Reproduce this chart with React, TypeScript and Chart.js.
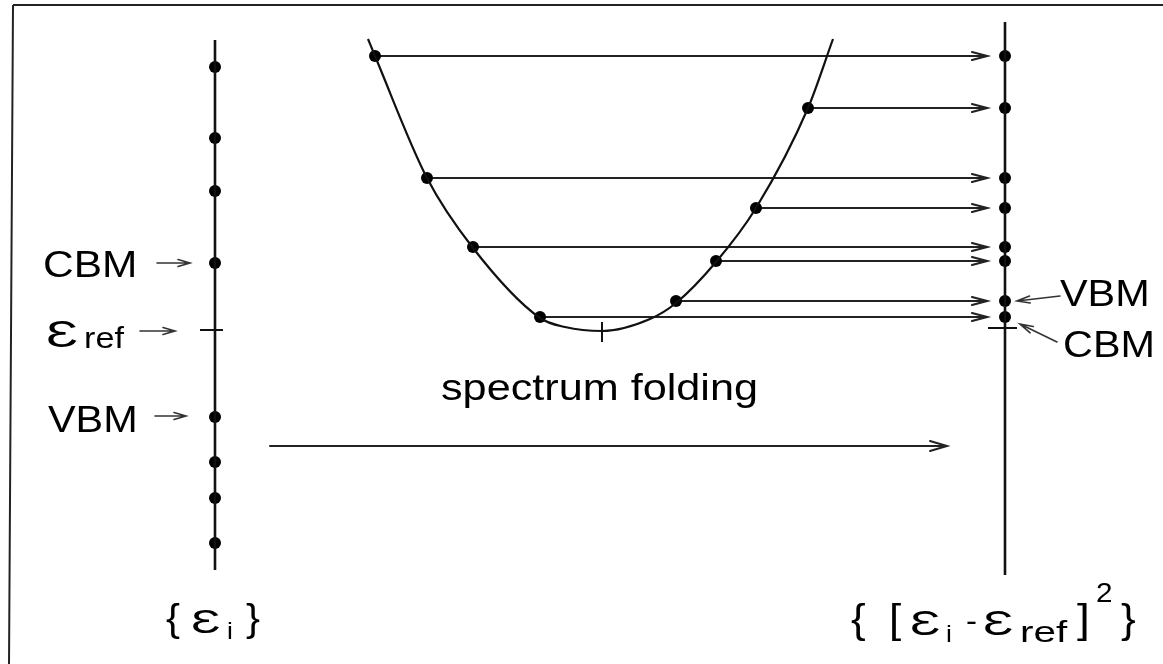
import React, { useEffect, useRef } from 'react';
import { Chart, registerables } from 'chart.js';

Chart.register(...registerables);

// ---- Data (energy-like units, 0 = ε_ref) ----
const leftLevels = [263, 192, 139, 67, -87, -132, -168, -213];
const foldedLevels = [274, 222, 152, 122, 83, 69, 29, 13];
const curveHitX = [375, 808, 427, 756, 473, 716, 676, 540];
const curveX = [368, 375, 427, 473, 540, 565, 602, 650, 676, 716, 756, 808, 833];
const curveY = [291, 274, 152, 82, 12, 3, -1, 11, 27, 68, 122, 222, 291];
const eRef = 0;
const foldedRef = 2;
const curveMinX = 602;

// ---- Layout ----
const W = 1163;
const H = 664;
const LEFT_AXIS_X = 215;
const RIGHT_AXIS_X = 1005;
const ARROW_TIP_X = 987;
const FONT = '"Liberation Sans", Arial, Helvetica, sans-serif';
const EPS = '\u0190';

function drawArrow(ctx: CanvasRenderingContext2D, x1: number, y1: number, x2: number, y2: number, len: number, hw: number, lw: number, color: string) {
  ctx.save();
  ctx.strokeStyle = color;
  ctx.lineWidth = lw;
  ctx.lineCap = 'round';
  ctx.beginPath();
  ctx.moveTo(x1, y1);
  ctx.lineTo(x2, y2);
  const a = Math.atan2(y2 - y1, x2 - x1);
  const ca = Math.cos(a), sa = Math.sin(a);
  const bx = x2 - ca * len, by = y2 - sa * len;
  ctx.moveTo(bx - sa * hw, by + ca * hw);
  ctx.lineTo(x2, y2);
  ctx.lineTo(bx + sa * hw, by - ca * hw);
  ctx.stroke();
  ctx.restore();
}

function txt(ctx: CanvasRenderingContext2D, s: string, x: number, y: number, size: number, sx = 1.15) {
  ctx.save();
  ctx.translate(x, y);
  ctx.scale(sx, 1);
  ctx.font = `${size}px ${FONT}`;
  ctx.fillStyle = '#000';
  ctx.textAlign = 'left';
  ctx.textBaseline = 'alphabetic';
  ctx.fillText(s, 0, 0);
  ctx.restore();
}

const diagramPlugin = {
  id: 'diagram',
  beforeDatasetsDraw(chart: any) {
    const ctx: CanvasRenderingContext2D = chart.ctx;
    const X = (v: number) => chart.scales.x.getPixelForValue(v);
    const Y = (v: number) => chart.scales.y.getPixelForValue(v);
    ctx.save();
    // frame
    ctx.strokeStyle = '#222';
    ctx.lineWidth = 2;
    ctx.beginPath();
    ctx.moveTo(13, 5);
    ctx.lineTo(W, 5);
    ctx.moveTo(13, 5);
    ctx.lineTo(9, H);
    ctx.stroke();

    // ticks
    ctx.strokeStyle = '#111';
    ctx.lineWidth = 2;
    ctx.beginPath();
    ctx.moveTo(X(LEFT_AXIS_X - 15), Y(eRef));
    ctx.lineTo(X(LEFT_AXIS_X + 8), Y(eRef));
    ctx.moveTo(X(RIGHT_AXIS_X - 17), Y(foldedRef));
    ctx.lineTo(X(RIGHT_AXIS_X + 12), Y(foldedRef));
    ctx.moveTo(X(curveMinX), Y(8));
    ctx.lineTo(X(curveMinX), Y(-12));
    ctx.stroke();

    // folding arrows
    foldedLevels.forEach((lv, i) => {
      drawArrow(ctx, X(curveHitX[i]), Y(lv), X(ARROW_TIP_X), Y(lv), 15, 4, 2.2, '#222');
    });

    // spectrum folding arrow
    drawArrow(ctx, X(270), Y(-116), X(947), Y(-116), 17, 5, 2, '#222');

    // left label arrows
    drawArrow(ctx, X(157), Y(67), X(190), Y(67), 12, 3.5, 1.6, '#333');
    drawArrow(ctx, X(140), Y(-1), X(175), Y(-1), 12, 3.5, 1.6, '#333');
    drawArrow(ctx, X(155), Y(-86), X(186), Y(-86), 12, 3.5, 1.6, '#333');

    // right label arrows
    drawArrow(ctx, X(1060), Y(34), X(1017), Y(29), 13, 3.5, 1.6, '#333');
    drawArrow(ctx, X(1057), Y(-12), X(1020), Y(6), 13, 3.5, 1.6, '#333');
    ctx.restore();
  },
  afterDatasetsDraw(chart: any) {
    const ctx: CanvasRenderingContext2D = chart.ctx;
    // left labels
    txt(ctx, 'CBM', 43, 277, 36, 1.18);
    txt(ctx, 'VBM', 48, 432, 36, 1.15);
    txt(ctx, EPS, 46, 347, 37, 1.45);
    txt(ctx, 'ref', 84, 348, 29, 1.18);
    // right labels
    txt(ctx, 'VBM', 1060, 306, 36, 1.15);
    txt(ctx, 'CBM', 1063, 357, 36, 1.15);
    // middle
    txt(ctx, 'spectrum folding', 441, 400, 36, 1.2);
    // bottom left
    txt(ctx, '{', 166, 631, 38, 1.1);
    txt(ctx, EPS, 191, 633, 34, 1.45);
    txt(ctx, 'i', 227, 639, 24, 1.1);
    txt(ctx, '}', 246, 631, 38, 1.1);
    // bottom right
    txt(ctx, '{', 851, 633, 40, 1.1);
    txt(ctx, '[', 889, 633, 40, 1.1);
    txt(ctx, EPS, 910, 635, 35, 1.45);
    txt(ctx, 'i', 946, 642, 24, 1.1);
    txt(ctx, '-', 966, 631, 30, 1.1);
    txt(ctx, EPS, 983, 635, 35, 1.45);
    txt(ctx, 'ref', 1020, 642, 30, 1.35);
    txt(ctx, ']', 1077, 633, 40, 1.15);
    txt(ctx, '2', 1096, 602, 27, 1.1);
    txt(ctx, '}', 1121, 633, 40, 1.1);
  },
};

export default function App() {
  const ref = useRef<HTMLCanvasElement | null>(null);
  useEffect(() => {
    document.body.style.margin = '0';
    if (!ref.current) return;
    const chart = new Chart(ref.current, {
      type: 'line',
      data: {
        datasets: [
          {
            label: 'left axis',
            data: [{ x: LEFT_AXIS_X, y: 290 }, { x: LEFT_AXIS_X, y: -240 }],
            borderColor: '#111',
            borderWidth: 2.6,
            pointRadius: 0,
          },
          {
            label: 'right axis',
            data: [{ x: RIGHT_AXIS_X, y: 308 }, { x: RIGHT_AXIS_X, y: -245 }],
            borderColor: '#111',
            borderWidth: 2.6,
            pointRadius: 0,
          },
          {
            label: 'parabola',
            data: curveX.map((x, i) => ({ x, y: curveY[i] })),
            borderColor: '#111',
            borderWidth: 2.2,
            pointRadius: 0,
            cubicInterpolationMode: 'monotone',
          },
          {
            label: 'levels',
            data: leftLevels.map((y) => ({ x: LEFT_AXIS_X, y })),
            showLine: false,
            pointRadius: 6,
            pointBackgroundColor: '#000',
            pointBorderWidth: 0,
          },
          {
            label: 'folded levels',
            data: foldedLevels.map((y) => ({ x: RIGHT_AXIS_X, y })),
            showLine: false,
            pointRadius: 6,
            pointBackgroundColor: '#000',
            pointBorderWidth: 0,
          },
          {
            label: 'curve points',
            data: foldedLevels.map((y, i) => ({ x: curveHitX[i], y })),
            showLine: false,
            pointRadius: 6,
            pointBackgroundColor: '#000',
            pointBorderWidth: 0,
          },
        ],
      },
      options: {
        animation: false,
        responsive: false,
        devicePixelRatio: 1,
        layout: { padding: 0, autoPadding: false },
        plugins: { legend: { display: false }, tooltip: { enabled: false } },
        events: [],
        scales: {
          x: { type: 'linear', min: 0, max: W, display: false },
          y: { type: 'linear', min: 330 - H, max: 330, display: false },
        },
      },
      plugins: [diagramPlugin],
    } as any);
    return () => chart.destroy();
  }, []);
  return (
    <div style={{ position: 'absolute', left: 0, top: 0, width: W, height: H, background: '#fff' }}>
      <canvas ref={ref} width={W} height={H} />
    </div>
  );
}
